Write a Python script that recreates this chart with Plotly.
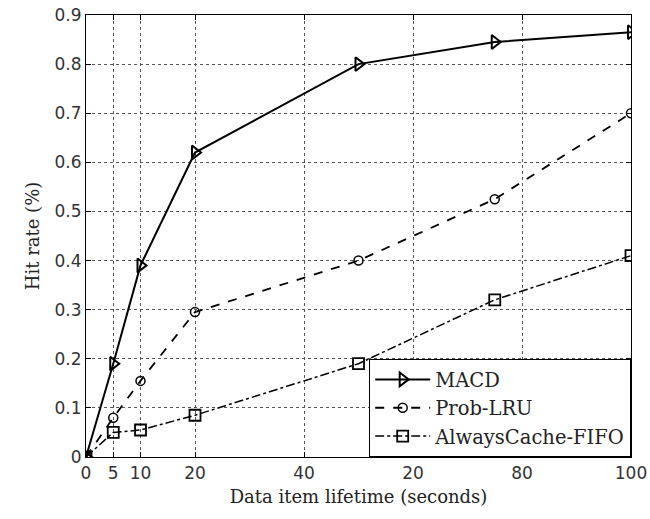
import plotly.graph_objects as go

lifetime = [0, 5, 10, 20, 50, 75, 100]
macd = [0.0, 0.19, 0.39, 0.62, 0.80, 0.845, 0.865]
prob_lru = [0.0, 0.08, 0.155, 0.295, 0.40, 0.525, 0.70]
fifo = [0.0, 0.05, 0.055, 0.085, 0.19, 0.32, 0.41]

x_tickvals = [0, 5, 10, 20, 40, 60, 80, 100]
x_ticktext = ["0", "5", "10", "20", "40", "20", "80", "100"]
y_tickvals = [0, 0.1, 0.2, 0.3, 0.4, 0.5, 0.6, 0.7, 0.8, 0.9]
y_ticktext = ["0", "0.1", "0.2", "0.3", "0.4", "0.5", "0.6", "0.7", "0.8", "0.9"]

fig = go.Figure()
fig.add_trace(go.Scatter(
    x=lifetime, y=macd, name="MACD", mode="lines+markers",
    line=dict(color="black", width=2, dash="solid"),
    marker=dict(symbol="triangle-right-open", size=12, color="black", line=dict(width=2)),
))
fig.add_trace(go.Scatter(
    x=lifetime, y=prob_lru, name="Prob-LRU", mode="lines+markers",
    line=dict(color="black", width=1.8, dash="dash"),
    marker=dict(symbol="circle-open", size=9, color="black", line=dict(width=1.5)),
))
fig.add_trace(go.Scatter(
    x=lifetime, y=fifo, name="AlwaysCache-FIFO", mode="lines+markers",
    line=dict(color="black", width=1.5, dash="dashdot"),
    marker=dict(symbol="square-open", size=11, color="black", line=dict(width=1.8)),
))

axis_common = dict(
    showline=True, linecolor="black", linewidth=1.2, mirror="ticks",
    ticks="inside", ticklen=5, tickcolor="black",
    showgrid=True, gridcolor="#555555", griddash="dot", gridwidth=1,
    zeroline=False, automargin=False, ticklabeloverflow="allow",
    tickfont=dict(family="DejaVu Sans", size=17, color="#333333"),
)

fig.update_xaxes(
    range=[0, 100], tickmode="array", tickvals=x_tickvals, ticktext=x_ticktext,
    title=dict(text="Data item lifetime (seconds)", standoff=8,
               font=dict(family="DejaVu Serif", size=18, color="#222222")),
    **axis_common,
)
fig.update_yaxes(
    range=[0, 0.9], tickmode="array", tickvals=y_tickvals, ticktext=y_ticktext,
    title=dict(text="Hit rate (%)", standoff=10,
               font=dict(family="DejaVu Serif", size=18, color="#222222")),
    **axis_common,
)

fig.update_layout(
    width=650, height=519,
    margin=dict(l=86, r=19, t=15, b=62),
    plot_bgcolor="white", paper_bgcolor="white",
    legend=dict(
        x=1, y=0, xanchor="right", yanchor="bottom",
        bgcolor="white", bordercolor="black", borderwidth=1.2,
        font=dict(family="DejaVu Serif", size=19.5, color="#222222"),
        itemwidth=55,
    ),
)

fig.write_html("out.html", config={"displayModeBar": False},
               post_script="document.body.style.margin='0';")
